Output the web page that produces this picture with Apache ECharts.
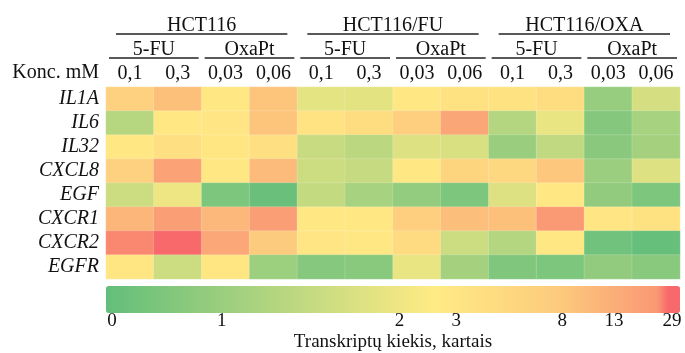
<!DOCTYPE html>
<html><head><meta charset="utf-8">
<script src="https://cdn.jsdelivr.net/npm/echarts@6/dist/echarts.min.js"></script>
<style>html,body{margin:0;padding:0;background:#fff}#c{width:685px;height:353px}</style>
</head><body><div id="c"></div>
<script>
// ---------- data ----------
const cellLines = ['HCT116', 'HCT116/FU', 'HCT116/OXA'];
const drugs = ['5-FU', 'OxaPt', '5-FU', 'OxaPt', '5-FU', 'OxaPt'];
const concentrations = ['0,1', '0,3', '0,03', '0,06', '0,1', '0,3', '0,03', '0,06', '0,1', '0,3', '0,03', '0,06'];
const genes = ['IL1A', 'IL6', 'IL32', 'CXCL8', 'EGF', 'CXCR1', 'CXCR2', 'EGFR'];

// fold change of transcript amount, per column (left to right)
const IL1A  = [6.6, 9.6, 2.9, 8.9, 1.88, 1.86, 2.8, 3.5, 3.5, 4.4, 0.94, 1.69];
const IL6   = [1.34, 2.86, 3.0, 8.9, 3.4, 4.4, 7.0, 17.2, 1.32, 1.95, 0.59, 1.16];
const IL32  = [2.86, 3.9, 2.93, 3.9, 1.55, 1.39, 1.79, 1.73, 1.0, 1.46, 0.69, 1.12];
const CXCL8 = [6.6, 18.8, 2.86, 10.7, 1.59, 1.5, 2.86, 5.9, 5.3, 8.2, 1.01, 1.79];
const EGF   = [1.59, 1.98, 0.44, 0.08, 1.48, 1.16, 0.86, 0.44, 1.79, 2.79, 0.84, 0.44];
const CXCR1 = [11.5, 20.9, 11.3, 20.9, 2.86, 2.86, 7.0, 10.0, 9.6, 23.5, 3.0, 3.5];
const CXCR2 = [26.2, 29, 16.7, 7.7, 3.0, 2.86, 5.0, 1.58, 1.32, 2.86, 0.19, 0.0];
const EGFR  = [2.93, 1.59, 2.93, 1.03, 0.61, 0.65, 1.94, 1.12, 0.5, 0.44, 0.84, 0.65];

// colour-scale ticks (fold values) and their relative place along the non-linear scale
const scaleTicks = [0, 1, 2, 3, 8, 13, 29];
const scaleKnots = [0.0104, 0.2017, 0.5113, 0.6104, 0.7948, 0.8852, 0.9861];

// ---------- helpers ----------
function foldToT(v) {
  if (v <= scaleTicks[0]) return scaleKnots[0];
  for (let k = 1; k < scaleTicks.length; k++) {
    if (v <= scaleTicks[k]) {
      const f = (v - scaleTicks[k - 1]) / (scaleTicks[k] - scaleTicks[k - 1]);
      return scaleKnots[k - 1] + f * (scaleKnots[k] - scaleKnots[k - 1]);
    }
  }
  return scaleKnots[scaleKnots.length - 1];
}
const gradStops = [
  [0.0, [99, 190, 123]],
  [0.57, [255, 235, 132]],
  [0.79, [253, 202, 125]],
  [0.885, [251, 174, 120]],
  [0.965, [250, 150, 115]],
  [0.975, [248, 105, 107]],
  [1.0, [248, 105, 107]]
];
function colorAt(t) {
  for (let k = 1; k < gradStops.length; k++) {
    if (t <= gradStops[k][0]) {
      const a = gradStops[k - 1], b = gradStops[k];
      const f = (t - a[0]) / (b[0] - a[0] || 1);
      const c = a[1].map((x, i) => Math.round(x + f * (b[1][i] - x)));
      return 'rgb(' + c.join(',') + ')';
    }
  }
  return 'rgb(248,105,107)';
}
const colors = [];
for (let i = 0; i <= 400; i++) colors.push(colorAt(i / 400));

const rows = [IL1A, IL6, IL32, CXCL8, EGF, CXCR1, CXCR2, EGFR];
const cells = [];
rows.forEach((r, j) => r.forEach((v, i) => cells.push([i, j, foldToT(v), v])));

const FONT = 'Liberation Serif';
const TXT = '#111';
const topLabel = (margin) => ({ margin: margin, fontFamily: FONT, fontSize: 20, color: TXT, interval: 0 });
const hidden = { axisLine: { show: false }, axisTick: { show: false }, splitLine: { show: false } };

const chart = echarts.init(document.getElementById('c'), null, { renderer: 'canvas' });
chart.setOption({
  animation: false,
  grid: [
    { left: 106, right: 5, top: 87, height: 192 },
    { left: 106, right: 5, top: 286, height: 27 }
  ],
  xAxis: [
    Object.assign({ type: 'category', gridIndex: 0, position: 'top', data: concentrations, axisLabel: topLabel(3) }, hidden),
    Object.assign({ type: 'category', gridIndex: 0, position: 'top', offset: 24, data: drugs, axisLabel: topLabel(3) }, hidden),
    Object.assign({ type: 'category', gridIndex: 0, position: 'top', offset: 48, data: cellLines, axisLabel: topLabel(3) }, hidden),
    Object.assign({
      type: 'value', gridIndex: 1, min: 0, max: 1,
      axisLabel: {
        customValues: scaleKnots, margin: 14, fontFamily: FONT, fontSize: 19, color: TXT,
        formatter: function (v) {
          let best = 0;
          scaleKnots.forEach((k, i) => { if (Math.abs(k - v) < Math.abs(scaleKnots[best] - v)) best = i; });
          return String(scaleTicks[best]);
        }
      },
      name: 'Transkriptų kiekis, kartais', nameLocation: 'middle', nameGap: 35,
      nameTextStyle: { fontFamily: FONT, fontSize: 19, color: TXT }
    }, hidden)
  ],
  yAxis: [
    Object.assign({
      type: 'category', gridIndex: 0, data: genes, inverse: true,
      axisLabel: { margin: 7, fontFamily: FONT, fontSize: 20, fontStyle: 'italic', color: TXT, interval: 0 }
    }, hidden),
    Object.assign({ type: 'value', gridIndex: 1, min: 0, max: 1, show: false }, hidden)
  ],
  visualMap: {
    type: 'continuous', min: 0, max: 1, dimension: 2, seriesIndex: 0,
    orient: 'horizontal', left: 106, top: 286, itemWidth: 27, itemHeight: 574,
    calculable: false, padding: 0, text: null, hoverLink: false,
    inRange: { color: colors }
  },
  series: [
    {
      type: 'heatmap', xAxisIndex: 0, yAxisIndex: 0, data: cells,
      itemStyle: { borderColor: 'rgba(255,255,255,0.35)', borderWidth: 0.5 },
      emphasis: { disabled: true }
    },
    { type: 'scatter', xAxisIndex: 3, yAxisIndex: 1, data: [] }
  ],
  graphic: []
});

// header underlines, derived from the column axis
const colPx = i => chart.convertToPixel({ xAxisIndex: 0 }, i);
const bw = colPx(1) - colPx(0);
const seg = (a, b, inset, y) => ({
  type: 'line', silent: true,
  shape: { x1: colPx(a) - bw / 2 + inset, y1: y, x2: colPx(b) + bw / 2 - inset, y2: y },
  style: { stroke: '#222', lineWidth: 1.3 }
});
const gridTop = 87;
const g = [];
cellLines.forEach((_, k) => g.push(seg(k * 4, k * 4 + 3, 10, gridTop - 53)));
drugs.forEach((_, k) => g.push(seg(k * 2, k * 2 + 1, 3, gridTop - 29)));
g.push({
  type: 'text', silent: true,
  style: { text: 'Konc. mM', x: 99, y: 73, align: 'right', verticalAlign: 'middle', font: '20px "Liberation Serif"', fill: TXT }
});
chart.setOption({ graphic: g });
</script>
</body></html>
